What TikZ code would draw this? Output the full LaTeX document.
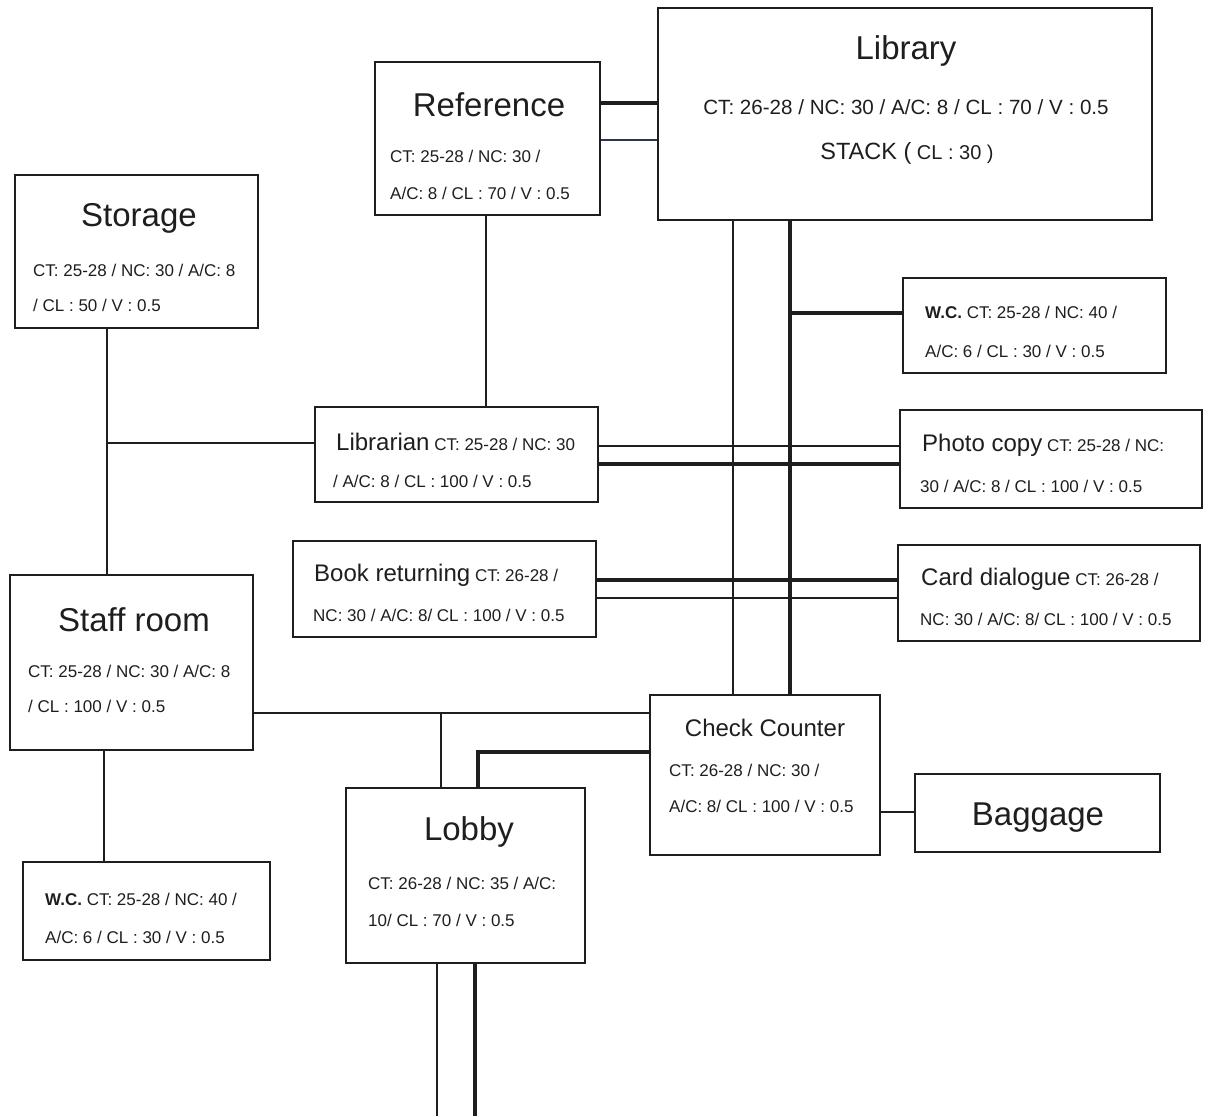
\documentclass[tikz,border=0pt]{standalone}
\usepackage{fontspec}
\setmainfont{Liberation Sans}
\definecolor{ink}{HTML}{1E1E1E}
\definecolor{inkb}{HTML}{2A3550}
\begin{document}
\begin{tikzpicture}[x=1pt,y=-1pt,
  box/.style={draw=ink, line width=1.8pt, inner sep=0pt},
  thin/.style={draw=ink, line width=1.4pt},
  thick/.style={draw=ink, line width=4pt},
  ttl/.style={inner sep=0pt, text=ink, font=\fontsize{33}{38}\selectfont},
  mid/.style={inner sep=0pt, text=ink, font=\fontsize{22}{26}\selectfont},
  txt/.style={inner sep=0pt, anchor=west, text=ink, font=\fontsize{17}{20}\selectfont},
  big/.style={inner sep=0pt, text=ink, font=\fontsize{20.6}{24}\selectfont}]
\useasboundingbox (0,0) rectangle (1209,1116);
\newcommand{\mlab}[1]{{\fontsize{24}{28}\selectfont #1}}
% boxes
\node[box, minimum width=494pt, minimum height=212pt] (lib) at (905,114) {};
\node[box, minimum width=225pt, minimum height=153pt] (ref) at (487.5,138.5) {};
\node[box, minimum width=243pt, minimum height=153pt] (sto) at (136.5,251.5) {};
\node[box, minimum width=263pt, minimum height=95pt] (wca) at (1034.5,325.5) {};
\node[box, minimum width=283pt, minimum height=95pt] (lbn) at (456.5,454.5) {};
\node[box, minimum width=302pt, minimum height=98pt] (pho) at (1051,459) {};
\node[box, minimum width=303pt, minimum height=96pt] (brt) at (444.5,589) {};
\node[box, minimum width=302pt, minimum height=96pt] (crd) at (1049,593) {};
\node[box, minimum width=243pt, minimum height=175pt] (stf) at (131.5,662.5) {};
\node[box, minimum width=230pt, minimum height=160pt] (chk) at (765,775) {};
\node[box, minimum width=245pt, minimum height=78pt] (bag) at (1037.5,813) {};
\node[box, minimum width=239pt, minimum height=175pt] (lob) at (465.5,875.5) {};
\node[box, minimum width=247pt, minimum height=98pt] (wcb) at (146.5,911) {};
% texts
\node[ttl] (libt) at (906,51) {Library};
\node[big] (lib1) at (906,107) {CT: 26-28 / NC: 30 / A/C: 8 / CL : 70 / V : 0.5};
\node[inner sep=0pt, text=ink] (lib2) at (907,153) {{\fontsize{23.5}{26}\selectfont STACK (}{\fontsize{20}{22}\selectfont\ CL : 30 )}};
\node[ttl] (reft) at (489,105) {Reference};
\node[txt] (ref1) at (390,156) {CT: 25-28 / NC: 30 /};
\node[txt] (ref2) at (390,193) {A/C: 8 / CL : 70 / V : 0.5};
\node[ttl] (stot) at (139,218) {Storage};
\node[txt] (sto1) at (33,270) {CT: 25-28 / NC: 30 / A/C: 8};
\node[txt] (sto2) at (33,305) {/ CL : 50 / V : 0.5};
\node[txt] (wca1) at (925,312) {\textbf{W.C.} CT: 25-28 / NC: 40 /};
\node[txt] (wca2) at (925,351) {A/C: 6 / CL : 30 / V : 0.5};
\node[txt] (lbn1) at (336,442) {\mlab{Librarian} CT: 25-28 / NC: 30};
\node[txt] (lbn2) at (333,481) {/ A/C: 8 / CL : 100 / V : 0.5};
\node[txt] (pho1) at (922,445) {\mlab{Photo copy} CT: 25-28 / NC:};
\node[txt] (pho2) at (920,486) {30 / A/C: 8 / CL : 100 / V : 0.5};
\node[txt] (brt1) at (314,575) {\mlab{Book returning} CT: 26-28 /};
\node[txt] (brt2) at (313,615) {NC: 30 / A/C: 8/ CL : 100 / V : 0.5};
\node[txt] (crd1) at (921,579) {\mlab{Card dialogue} CT: 26-28 /};
\node[txt] (crd2) at (920,619) {NC: 30 / A/C: 8/ CL : 100 / V : 0.5};
\node[ttl] (stft) at (134,620) {Staff room};
\node[txt] (stf1) at (28,671) {CT: 25-28 / NC: 30 / A/C: 8};
\node[txt] (stf2) at (28,706) {/ CL : 100 / V : 0.5};
\node[inner sep=0pt, text=ink, font=\fontsize{24}{28}\selectfont] (chkt) at (765,728) {Check Counter};
\node[txt] (chk1) at (669,770) {CT: 26-28 / NC: 30 /};
\node[txt] (chk2) at (669,806) {A/C: 8/ CL : 100 / V : 0.5};
\node[ttl] (bagt) at (1038,818) {Baggage};
\node[ttl] (lobt) at (469,832) {Lobby};
\node[txt] (lob1) at (368,883) {CT: 26-28 / NC: 35 / A/C:};
\node[txt] (lob2) at (368,920) {10/ CL : 70 / V : 0.5};
\node[txt] (wcb1) at (45,899) {\textbf{W.C.} CT: 25-28 / NC: 40 /};
\node[txt] (wcb2) at (45,937) {A/C: 6 / CL : 30 / V : 0.5};
% junctions
\coordinate (j1) at (107,443);
\coordinate (j2) at (790,313);
\coordinate (j3) at (441,713);
\coordinate (j4) at (478,752);
\coordinate (bot1) at (437,1116);
\coordinate (bot2) at (475,1116);
% connectors
\draw[thick] (ref.east |- 0,103) -- (lib.west |- 0,103);
\draw[draw=inkb, line width=1.2pt] (ref.east |- 0,140) -- (lib.west |- 0,140);
\draw[thin] (ref.south -| 486,0) -- (lbn.north -| 486,0);
\draw[thin] (sto.south -| j1) -- (stf.north -| j1);
\draw[thin] (j1) -- (lbn.west |- j1);
\draw[thin] (lib.south -| 733,0) -- (chk.north -| 733,0);
\draw[thick] (lib.south -| j2) -- (chk.north -| j2);
\draw[thick] (j2) -- (wca.west |- j2);
\draw[thin] (lbn.east |- 0,446) -- (pho.west |- 0,446);
\draw[thick] (lbn.east |- 0,464) -- (pho.west |- 0,464);
\draw[thick] (brt.east |- 0,580) -- (crd.west |- 0,580);
\draw[thin] (brt.east |- 0,598) -- (crd.west |- 0,598);
\draw[thin] (stf.east |- j3) -- (chk.west |- j3);
\draw[thin] (j3) -- (lob.north -| j3);
\draw[thick] (chk.west |- j4) -- (j4) -- (lob.north -| j4);
\draw[thin] (chk.east |- 0,812) -- (bag.west |- 0,812);
\draw[thin] (stf.south -| 104,0) -- (wcb.north -| 104,0);
\draw[thin] (lob.south -| bot1) -- (bot1);
\draw[thick] (lob.south -| bot2) -- (bot2);
\end{tikzpicture}
\end{document}
